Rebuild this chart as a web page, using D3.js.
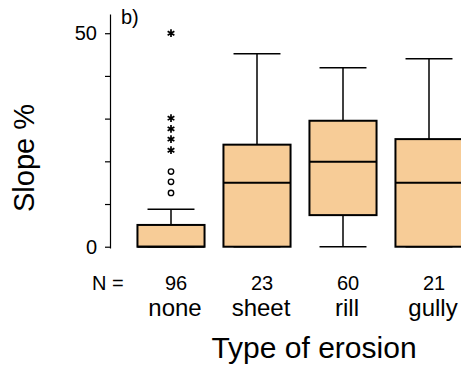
<!DOCTYPE html>
<html>
<head>
<meta charset="utf-8">
<script src="https://cdn.jsdelivr.net/npm/d3@7"></script>
<style>
  body { margin: 0; background: #fff; }
  svg { display: block; font-family: "Liberation Sans", Arial, sans-serif; }
</style>
</head>
<body>
<svg id="chart" width="461" height="367"></svg>
<script>
// erosion types and sample sizes
var categories = ["none", "sheet", "rill", "gully"];
var counts = [96, 23, 60, 21];

// box summary per category (slope %)
var whiskerLow = [0, 0, 0, 0];
var q1 = [0, 0, 7.4, 0];
var median = [0, 15, 19.9, 15];
var q3 = [5.1, 23.9, 29.5, 25.2];
var whiskerHigh = [8.8, 45.2, 41.9, 44];

// outliers (o) and extremes (*) of the "none" group
var outliers = [12.6, 15.2, 17.6];
var extremes = [22.6, 25.2, 27.6, 30.1, 50];

var yTicks = [0, 10, 20, 30, 40, 50];
var yTickLabels = ["0", "", "", "", "", "50"];

var boxFill = "#f7cc97";

var svg = d3.select("#chart");

var y = d3.scaleLinear().domain([-0.3, 54.5]).range([248, 14]);
var x = d3.scaleBand().domain(categories).range([128, 472])
    .paddingInner(0.22).paddingOuter(0.11);

// y axis
var yAxis = d3.axisLeft(y).tickValues(yTicks).tickSize(5).tickSizeOuter(0).tickPadding(8)
    .tickFormat(function (d, i) { return yTickLabels[i]; });

var gAxis = svg.append("g").attr("transform", "translate(110,0)").call(yAxis);
gAxis.select(".domain").attr("stroke", "#000").attr("stroke-width", 1.2);
gAxis.selectAll(".tick line").attr("stroke", "#000").attr("stroke-width", 1.2);
gAxis.selectAll(".tick text").attr("font-size", 20).attr("fill", "#000")
    .attr("font-family", "Liberation Sans, Arial, sans-serif");

// boxes
var data = categories.map(function (c, i) {
    return { cat: c, n: counts[i], lo: whiskerLow[i], q1: q1[i], med: median[i], q3: q3[i], hi: whiskerHigh[i] };
});

var capHalf = x.bandwidth() * 0.35;

var boxes = svg.append("g").selectAll("g.box").data(data).enter().append("g").attr("class", "box")
    .attr("transform", function (d) { return "translate(" + (x(d.cat) + x.bandwidth() / 2) + ",0)"; });

// whiskers
boxes.append("line").attr("x1", 0).attr("x2", 0)
    .attr("y1", function (d) { return y(d.q3); }).attr("y2", function (d) { return y(d.hi); })
    .attr("stroke", "#000").attr("stroke-width", 1.5);
boxes.append("line").attr("x1", 0).attr("x2", 0)
    .attr("y1", function (d) { return y(d.q1); }).attr("y2", function (d) { return y(d.lo); })
    .attr("stroke", "#000").attr("stroke-width", 1.5);
boxes.append("line").attr("x1", -capHalf).attr("x2", capHalf)
    .attr("y1", function (d) { return y(d.hi); }).attr("y2", function (d) { return y(d.hi); })
    .attr("stroke", "#000").attr("stroke-width", 1.5);
boxes.append("line").attr("x1", -capHalf).attr("x2", capHalf)
    .attr("y1", function (d) { return y(d.lo); }).attr("y2", function (d) { return y(d.lo); })
    .attr("stroke", "#000").attr("stroke-width", 1.5);

boxes.append("rect")
    .attr("x", -x.bandwidth() / 2).attr("width", x.bandwidth())
    .attr("y", function (d) { return y(d.q3); })
    .attr("height", function (d) { return y(d.q1) - y(d.q3); })
    .attr("fill", boxFill).attr("stroke", "#000").attr("stroke-width", 2);

boxes.append("line").attr("x1", -x.bandwidth() / 2).attr("x2", x.bandwidth() / 2)
    .attr("y1", function (d) { return y(d.med); }).attr("y2", function (d) { return y(d.med); })
    .attr("stroke", "#000").attr("stroke-width", 2);

// outliers of the first group
var cx0 = x(categories[0]) + x.bandwidth() / 2;
svg.append("g").selectAll("circle").data(outliers).enter().append("circle")
    .attr("cx", cx0).attr("cy", function (d) { return y(d); }).attr("r", 2.7)
    .attr("fill", "none").attr("stroke", "#000").attr("stroke-width", 1.4);

var star = d3.symbol().type(d3.symbolAsterisk).size(42);
svg.append("g").selectAll("path").data(extremes).enter().append("path")
    .attr("d", star)
    .attr("transform", function (d) { return "translate(" + cx0 + "," + y(d) + ")"; })
    .attr("fill", "none").attr("stroke", "#000").attr("stroke-width", 1.7);

// panel tag
svg.append("text").attr("x", 121).attr("y", 24).attr("font-size", 20).text("b)");

// N row and category labels
svg.append("text").attr("x", 92).attr("y", 290).attr("font-size", 20).text("N =");
svg.append("g").selectAll("text").data(data).enter().append("text")
    .attr("x", function (d) { return x(d.cat) + x.bandwidth() / 2 + 5; })
    .attr("y", 290).attr("text-anchor", "middle").attr("font-size", 20)
    .text(function (d) { return d.n; });
svg.append("g").selectAll("text").data(data).enter().append("text")
    .attr("x", function (d) { return x(d.cat) + x.bandwidth() / 2 + 4; })
    .attr("y", 316).attr("text-anchor", "middle").attr("font-size", 24)
    .text(function (d) { return d.cat; });

// axis titles
svg.append("text").attr("x", 314).attr("y", 358).attr("text-anchor", "middle")
    .attr("font-size", 30).text("Type of erosion");
svg.append("text").attr("transform", "translate(34,158) rotate(-90)")
    .attr("text-anchor", "middle").attr("font-size", 29).text("Slope %");
</script>
</body>
</html>
